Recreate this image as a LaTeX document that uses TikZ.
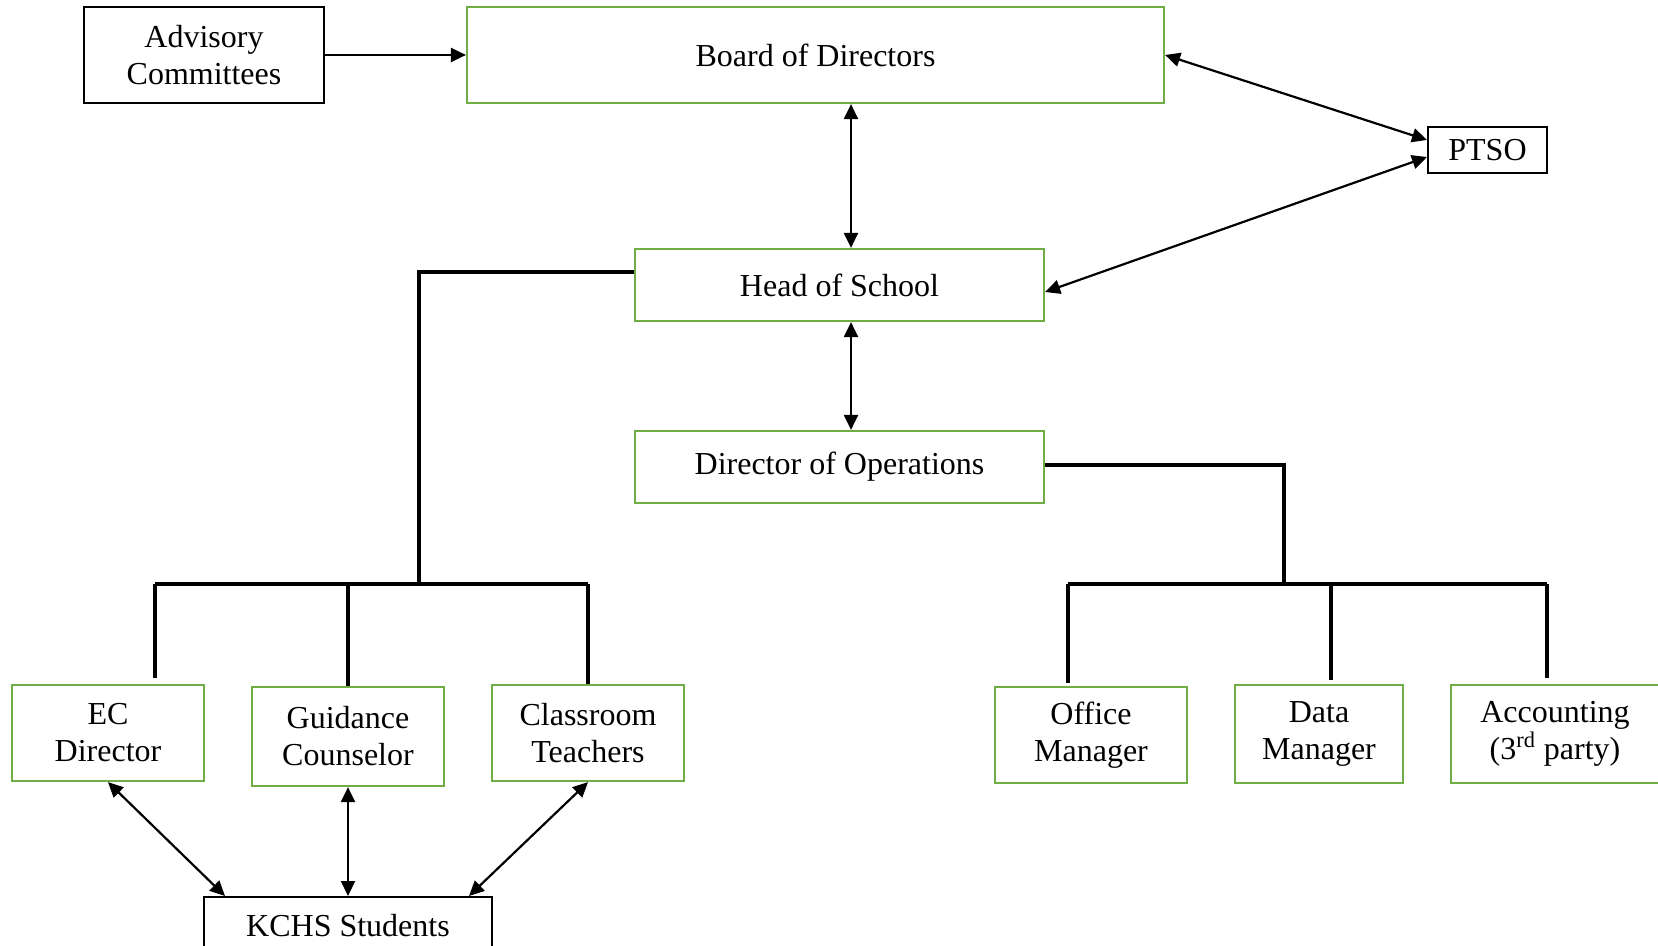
\documentclass[tikz,border=0pt]{standalone}
\usepackage{fontspec}
\setmainfont{Liberation Serif}
\usepackage{xcolor}
\usetikzlibrary{positioning,arrows.meta,calc}
\definecolor{grn}{HTML}{70AD47}
\tikzset{
  box/.style={draw=black,line width=1pt,fill=white,inner sep=2pt,align=center,font=\fontsize{16}{18.5}\selectfont},
  gbox/.style={box,draw=grn,line width=1.1pt},
  arr/.style={{Triangle[length=7.5pt,width=7pt]}-{Triangle[length=7.5pt,width=7pt]},line width=1.1pt},
  onearr/.style={-{Triangle[length=7.5pt,width=7pt]},line width=1.1pt},
  tree/.style={line width=1.6pt},
}

\begin{document}
\begin{tikzpicture}[x=0.5pt,y=-0.5pt]
\useasboundingbox (0,0) rectangle (1658,946);
% top row
\node[box,minimum width=120pt,minimum height=48pt] (adv) at (204,55) {Advisory\\Committees};
\node[gbox,minimum width=348.5pt,minimum height=48pt] (board) at (815.5,55) {Board of Directors};
\node[box,minimum width=59.5pt,minimum height=23pt] (ptso) at (1487.5,150) {PTSO};
% middle
\node[gbox,minimum width=204.5pt,minimum height=36pt] (head) at (839.5,285) {Head of School};
\node[gbox,minimum width=204.5pt,minimum height=36pt] (ops) at (839.5,467) {Director of Operations};
% staff
\node[gbox,minimum width=96pt,minimum height=48pt] (ec) at (108,733) {EC\\Director};
\node[gbox,minimum width=96pt,minimum height=49.5pt] (guid) at (348,736.5) {Guidance\\Counselor};
\node[gbox,minimum width=96pt,minimum height=48pt] (class) at (588,733) {Classroom\\Teachers};
\node[box,minimum width=144pt,minimum height=29pt] (kchs) at (348,926) {KCHS Students};
\node[gbox,minimum width=96pt,minimum height=48pt] (office) at (1091,735) {Office\\Manager};
\node[gbox,minimum width=84pt,minimum height=49pt] (data) at (1319,734) {Data\\Manager};
\node[gbox,minimum width=104pt,minimum height=49pt] (acct) at (1555,734) {Accounting\\(3\textsuperscript{rd} party)};
% joints
\coordinate (lj) at (419,584);
\coordinate (rj) at (1284,584);

\draw[onearr] (adv) -- (board);
\draw[arr] ([xshift=17.75pt]board.south) -- ([xshift=17.75pt]board.south |- head.north);
\draw[arr] ([xshift=5.75pt]head.south) -- ([xshift=5.75pt]ops.north);
\draw[arr] (board.east) -- ([yshift=5pt]ptso.west);
\draw[arr] ([yshift=-3.5pt]head.east) -- ([yshift=-3.5pt]ptso.west);

% left tree
\draw[tree] ([yshift=6.5pt]head.west) -| (lj);
\draw[tree] ([xshift=23.5pt]ec.north |- lj) -- (class.north |- lj);
\draw[tree] ([xshift=23.5pt]ec.north |- lj) -- ([xshift=23.5pt,yshift=3pt]ec.north);
\foreach \n in {guid,class}
  \draw[tree] (\n.north |- lj) -- (\n.north);

% right tree
\draw[tree] ([yshift=1pt]ops.east) -| (rj);
\draw[tree] ([xshift=-11.5pt]office.north |- rj) -- ([xshift=-4pt]acct.north |- rj);
\draw[tree] ([xshift=-11.5pt]office.north |- rj) -- ([xshift=-11.5pt,yshift=1.5pt]office.north);
\draw[tree] ([xshift=6pt]data.north |- rj) -- ([xshift=6pt,yshift=2pt]data.north);
\draw[tree] ([xshift=-4pt]acct.north |- rj) -- ([xshift=-4pt,yshift=3pt]acct.north);

% students
\draw[arr] (ec.south) -- ([xshift=11pt]kchs.north west);
\draw[arr] (guid.south) -- (kchs.north);
\draw[arr] (class.south) -- ([xshift=-12pt]kchs.north east);
\end{tikzpicture}
\end{document}
